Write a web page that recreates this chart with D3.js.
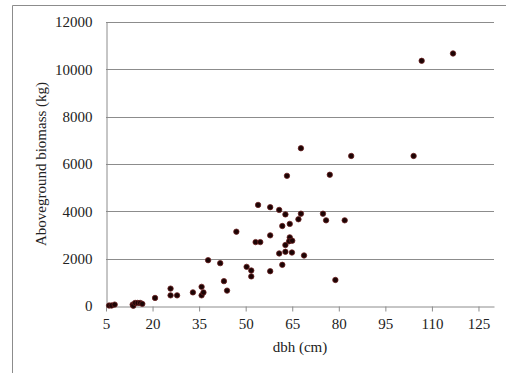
<!DOCTYPE html>
<html>
<head>
  <meta charset="utf-8">
  <title>dbh vs biomass</title>
  <script src="https://d3js.org/d3.v7.min.js"></script>
  <style>
    body { margin: 0; padding: 0; background: white; }
    text { font-family: "Liberation Serif", "Times New Roman", serif; fill: #222; }
    .grid line { stroke: #8c8c8c; stroke-width: 1; }
    .axis path, .axis line { stroke: #8c8c8c; }
    .axis text { font-family: "Liberation Serif", "Times New Roman", serif; fill: #222; }
    .dot { fill: #1c0404; stroke: #6a2020; stroke-width: 0.8; }
  </style>
</head>
<body>
  <div id="chart"></div>
  <script>
    // diameter at breast height (cm)
    var dbh = [6.0, 6.8, 7.8, 13.6, 13.8, 14.4, 15.2, 16.0, 16.7, 20.8,
               25.8, 25.8, 27.9, 33.0, 35.8, 35.8, 36.4, 37.9, 41.8, 43.0,
               44.0, 47.0, 50.3, 51.8, 51.8, 53.2, 54.7, 54.0, 57.9, 60.8,
               62.8, 67.8, 67.0, 64.2, 61.8, 57.9, 64.2, 64.0, 65.0, 62.8,
               60.8, 62.8, 64.9, 68.8, 61.8, 57.9, 74.9, 75.9, 81.9, 78.9,
               67.8, 63.3, 77.1, 84.0, 104.1, 106.7, 116.8];
    // aboveground biomass (kg)
    var biomass = [20, 20, 60, 60, 10, 130, 130, 130, 90, 340,
                   735, 450, 450, 575, 810, 450, 575, 1935, 1810, 1050,
                   650, 3140, 1655, 1500, 1250, 2700, 2700, 4270, 4175, 4060,
                   3870, 3900, 3665, 3470, 3380, 2985, 2900, 2735, 2760, 2575,
                   2220, 2290, 2260, 2135, 1740, 1470, 3900, 3620, 3620, 1100,
                   6666, 5500, 5546, 6340, 6340, 10360, 10670];

    var xTicks = [5, 20, 35, 50, 65, 80, 95, 110, 125];
    var yTicks = [0, 2000, 4000, 6000, 8000, 10000, 12000];

    var width = 506, height = 373;
    var plotLeft = 106, plotRight = 494, plotTop = 22, plotBottom = 306;

    var svg = d3.select("#chart")
      .append("svg")
        .attr("width", width)
        .attr("height", height);

    svg.append("rect")
        .attr("width", width).attr("height", height)
        .attr("fill", "white");

    // outer chart border (only left and top visible)
    svg.append("path")
        .attr("d", "M12.5," + height + "V5.5H" + width)
        .attr("fill", "none")
        .attr("stroke", "#8c8c8c");

    var x = d3.scaleLinear().domain([5, 130]).range([plotLeft, plotRight]);
    var y = d3.scaleLinear().domain([0, 12000]).range([plotBottom, plotTop]);

    // horizontal gridlines
    svg.append("g")
        .attr("class", "grid")
      .selectAll("line")
        .data(yTicks.slice(1))
      .enter().append("line")
        .attr("x1", plotLeft).attr("x2", plotRight)
        .attr("y1", function(d) { return Math.round(y(d)) + 0.5; })
        .attr("y2", function(d) { return Math.round(y(d)) + 0.5; });

    // x axis
    var gx = svg.append("g")
        .attr("class", "axis")
        .attr("transform", "translate(0," + (plotBottom + 0.5) + ")")
        .call(d3.axisBottom(x).tickValues(xTicks).tickSize(5).tickSizeOuter(0));
    gx.selectAll("text")
        .style("font-size", "15px")
        .attr("y", 12);

    // y axis
    var gy = svg.append("g")
        .attr("class", "axis")
        .attr("transform", "translate(" + (plotLeft + 0.5) + ",0)")
        .call(d3.axisLeft(y).tickValues(yTicks).tickFormat(d3.format("d"))
          .tickSize(0).tickSizeOuter(0).tickPadding(14));
    gy.selectAll("text")
        .style("font-size", "15px");

    // points
    svg.selectAll(".dot")
        .data(dbh)
      .enter().append("circle")
        .attr("class", "dot")
        .attr("cx", function(d) { return x(d); })
        .attr("cy", function(d, i) { return y(biomass[i]); })
        .attr("r", 2.7);

    // axis titles
    svg.append("text")
        .attr("x", (plotLeft + plotRight) / 2)
        .attr("y", 352)
        .style("text-anchor", "middle")
        .style("font-size", "15px")
        .text("dbh (cm)");

    svg.append("text")
        .attr("transform", "translate(46," + ((plotTop + plotBottom) / 2) + ") rotate(-90)")
        .style("text-anchor", "middle")
        .style("font-size", "15px")
        .text("Aboveground biomass (kg)");
  </script>
</body>
</html>
